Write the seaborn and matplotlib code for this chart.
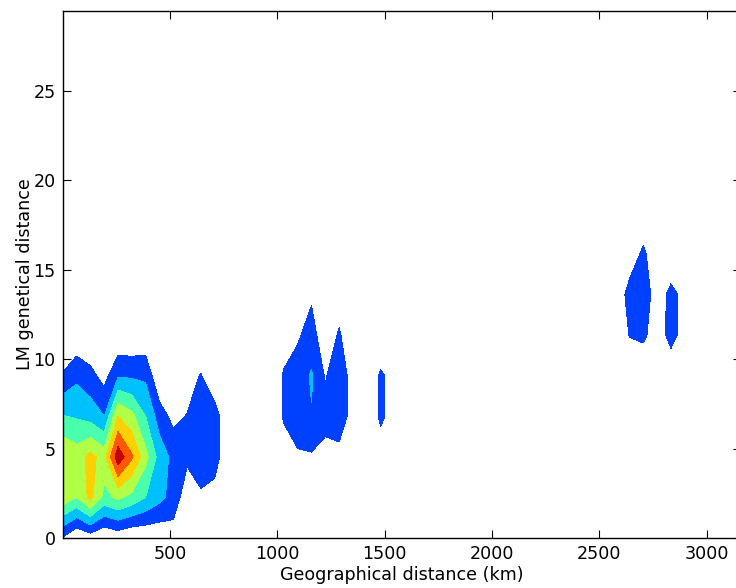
import numpy as np
import matplotlib
matplotlib.use("Agg")
import matplotlib.pyplot as plt
import seaborn as sns

# ---- data: 2-D histogram grid (rows = genetic-distance bins, cols = geographic bins)
n_rows, n_cols = 14, 50
y_top = 29.47          # LM genetical distance of the last grid row
x_step_km = 64.4       # geographic bin width (km)

# left cluster: rows 0..5, cols 0..12
left_block = [
    [0.9, 0.0, 0.41, 0.0, 0.28, 0.0, 0.06, 0.16, 0.5, 0.0, 0.0, 0.0, 0.0],
    [4.7, 4.0, 5.3, 3.7, 4.2, 3.7, 3.0, 2.3, 1.6, 0.37, 0.86, 0.5, 0.0],
    [4.95, 4.5, 5.3, 4.6, 7.67, 6.15, 4.3, 2.6, 1.7, 1.2, 1.5, 1.55, 0.0],
    [3.05, 2.9, 2.6, 2.0, 5.0, 4.3, 3.0, 1.5, 0.7, 1.05, 1.6, 1.55, 0.0],
    [1.1, 1.77, 1.33, 0.63, 1.9, 1.85, 1.8, 0.1, 0.0, 0.5, 1.07, 0.0, 0.0],
    [0.0, 0.2, 0.0, 0.0, 0.1, 0.1, 0.2, 0.0, 0.0, 0.0, 0.0, 0.0, 0.0],
]
# blob near 1000-1300 km: rows 2..6, cols 15..21
mid_block = [
    [0.0, 0.3, 0.87, 0.87, 0.6, 0.53, 0.0],
    [0.0, 1.15, 1.5, 1.95, 1.4, 1.8, 0.42],
    [0.0, 1.15, 1.5, 2.1, 0.9, 1.8, 0.42],
    [0.0, 0.3, 0.85, 1.5, 0.18, 1.15, 0.0],
    [0.0, 0.0, 0.2, 0.82, 0.0, 0.4, 0.0],
]
# small blob near 1480 km: rows 2..5, cols 22..24
blob_1480 = [
    [0.0, 0.57, 0.0],
    [0.27, 1.15, 0.65],
    [0.27, 1.15, 0.65],
    [0.0, 0.15, 0.0],
]
# blobs near 2700-2850 km: rows 4..8, cols 40..45
right_block = [
    [0.0, 0.0, 0.15, 0.0, 0.3, 0.0],
    [0.0, 1.05, 1.2, 0.45, 1.33, 0.58],
    [0.0, 1.5, 1.8, 0.3, 1.37, 0.64],
    [0.0, 0.23, 1.27, 0.0, 0.0, 0.0],
    [0.0, 0.0, 0.0, 0.0, 0.0, 0.0],
]
levels = [1, 2, 3, 4, 5, 6, 7, 8]
x_ticks = [500, 1000, 1500, 2000, 2500, 3000]
y_ticks = [0, 5, 10, 15, 20, 25]

# ---- assemble grid
Z = np.zeros((n_rows, n_cols))
for block, r0, c0 in [(left_block, 0, 0), (mid_block, 2, 15),
                      (blob_1480, 2, 22), (right_block, 4, 40)]:
    b = np.array(block)
    Z[r0:r0 + b.shape[0], c0:c0 + b.shape[1]] = b
xs = np.arange(n_cols) * x_step_km
ys = np.linspace(0, y_top, n_rows)

# ---- style
sns.set_style("ticks", {"xtick.direction": "in", "ytick.direction": "in",
                        "axes.edgecolor": "black", "text.color": "black",
                        "axes.labelcolor": "black", "xtick.color": "black",
                        "ytick.color": "black"})
plt.rcParams["font.family"] = ["DejaVu Sans"]
plt.rcParams["font.size"] = 12.6

fig = plt.figure(figsize=(7.36, 5.88), dpi=100)
ax = fig.add_axes([62.7 / 736, 50 / 588, 678.3 / 736, 527 / 588])

jet = plt.get_cmap("jet")
band_colors = [jet((k + 0.5) / 8) for k in range(1, 8)]
ax.contourf(xs, ys, Z, levels=levels, colors=band_colors)

ax.set_xlim(0, 3160)
ax.set_ylim(0, y_top)
ax.set_xticks(x_ticks)
ax.set_yticks(y_ticks)
ax.tick_params(which="both", direction="in", top=True, right=True,
               length=5.5, width=0.8, labelsize=12.6, pad=5,
               colors="black", labelcolor="black")
for s in ax.spines.values():
    s.set_linewidth(1.0)
    s.set_color("black")
ax.set_xlabel("Geographical distance (km)", fontsize=12.6, labelpad=2,
              color="black")
ax.set_ylabel("LM genetical distance", fontsize=12.6, labelpad=0,
              color="black")

fig.savefig("out.png", dpi=100)
